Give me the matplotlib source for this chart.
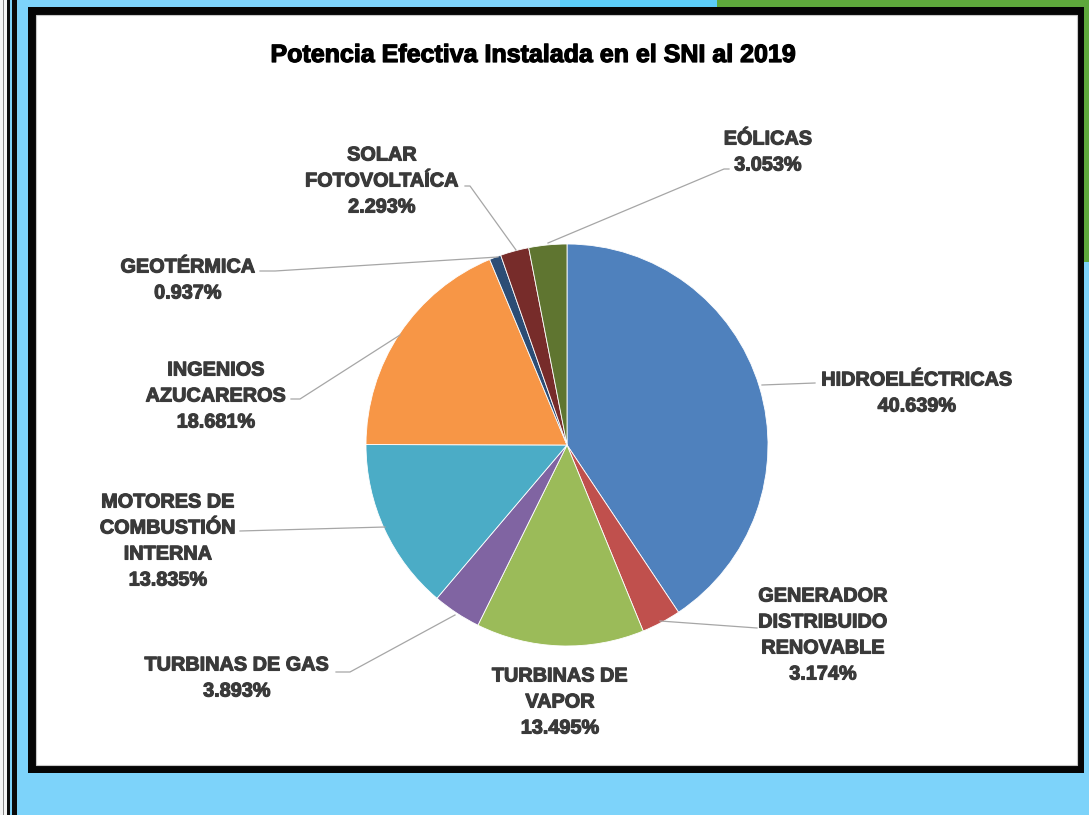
import matplotlib
matplotlib.use("Agg")
import matplotlib.pyplot as plt
from matplotlib.patches import Rectangle, Polygon
import matplotlib.patheffects as pe

# ---- data ----
categories = ["HIDROELÉCTRICAS", "GENERADOR\nDISTRIBUIDO\nRENOVABLE", "TURBINAS DE\nVAPOR",
              "TURBINAS DE GAS", "MOTORES DE\nCOMBUSTIÓN\nINTERNA", "INGENIOS\nAZUCAREROS",
              "GEOTÉRMICA", "SOLAR\nFOTOVOLTAÍCA", "EÓLICAS"]
values = [40.639, 3.174, 13.495, 3.893, 13.835, 18.681, 0.937, 2.293, 3.053]
colors = ["#4F81BD", "#C0504D", "#9BBB59", "#8064A2", "#4BACC6", "#F79646",
          "#2C4D75", "#772C2A", "#5F7530"]
title = "Potencia Efectiva Instalada en el SNI al 2019"

W, H = 1089, 815
fig = plt.figure(figsize=(W / 100, H / 100), dpi=100)
fig.patch.set_facecolor("#7DD3FA")
ax = fig.add_axes([0, 0, 1, 1])
ax.set_xlim(0, W)
ax.set_ylim(0, H)
ax.axis("off")

def Y(y):
    return H - y

# background decorations
ax.add_patch(Polygon([(717, Y(0)), (W, Y(0)), (W, Y(262)), (1084, Y(262)), (1084, Y(7)), (717, Y(7))],
                     closed=True, facecolor="#5EA83C", edgecolor="none", zorder=0))
ax.add_patch(Rectangle((560, Y(7)), 157, 7, facecolor="#5CCDF8", edgecolor="none", zorder=0))
ax.add_patch(Rectangle((0, 0), 7, H, facecolor="#F4F4F4", edgecolor="none", zorder=0))
ax.add_patch(Rectangle((2.5, 0), 1.2, H, facecolor="#888888", edgecolor="none", zorder=1))
ax.add_patch(Rectangle((7, 0), 3, H, facecolor="#0A0A0A", edgecolor="none", zorder=1))
ax.add_patch(Rectangle((12, 0), 4.5, H, facecolor="#0A0A0A", edgecolor="none", zorder=1))
# black frame & white panel
ax.add_patch(Rectangle((28, Y(773)), 1084 - 28, 773 - 7, facecolor="#050505", edgecolor="none", zorder=1))
ax.add_patch(Rectangle((36, Y(765)), 1077 - 36, 765 - 15, facecolor="#FFFFFF",
                       edgecolor="#C8C8C8", linewidth=0.8, zorder=2))

# pie
cx, cy, r = 567, Y(445), 201
wedges, _ = ax.pie(values, colors=colors, startangle=90, counterclock=False,
                   center=(cx, cy), radius=r, frame=True,
                   wedgeprops=dict(edgecolor="white", linewidth=0.6))
for w in wedges:
    w.set_zorder(3)
ax.set_xlim(0, W)
ax.set_ylim(0, H)
ax.set_aspect("auto")
ax.axis("off")

ax.text(533, Y(55), title, ha="center", va="center", fontsize=18,
        fontweight="bold", family="Liberation Sans", color="black", zorder=5,
        path_effects=[pe.withStroke(linewidth=0.9, foreground="black")])

lab_color = "#3A3A3A"
label_pos = [(917, 380), (823, 596), (560, 676), (237, 665), (168, 502),
             (216, 370), (188, 267), (382, 155), (768, 139)]
leaders = [
    [(762, 385), (815, 383)],
    [(660, 621), (757, 628)],
    None,
    [(455, 615), (350, 672), (336, 672)],
    [(385, 527), (240, 531)],
    [(400, 335), (300, 399), (291, 399)],
    [(498, 257), (275, 271), (260, 271)],
    [(516, 250), (470, 186), (465, 186)],
    [(548, 243), (724, 169), (729, 169)],
]
step = 26
for cat, val, (lx, ly), ld in zip(categories, values, label_pos, leaders):
    lines = cat.split("\n") + [f"{val:.3f}%"]
    for i, t in enumerate(lines):
        ax.text(lx, Y(ly + i * step), t, ha="center", va="center", fontsize=14.3,
                fontweight="bold", family="Liberation Sans", color=lab_color, zorder=5,
                path_effects=[pe.withStroke(linewidth=0.8, foreground=lab_color)])
    if ld:
        xs = [p[0] for p in ld]
        ys = [Y(p[1]) for p in ld]
        ax.plot(xs, ys, color="#A6A6A6", linewidth=0.9, zorder=4)

fig.savefig("out.png", dpi=100)
